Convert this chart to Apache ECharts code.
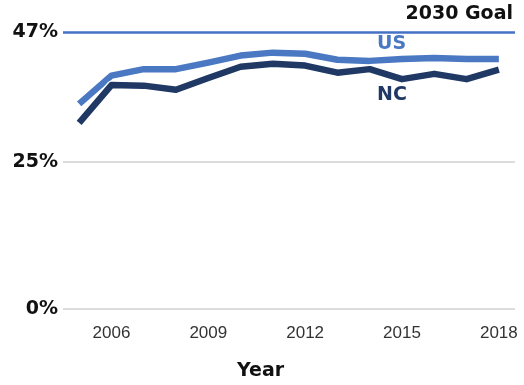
<!DOCTYPE html>
<html>
<head>
<meta charset="utf-8">
<script src="https://cdn.jsdelivr.net/npm/echarts@6/dist/echarts.min.js"></script>
<style>
  html, body { margin: 0; padding: 0; background: #fff; }
  #chart { width: 524px; height: 385px; }
</style>
</head>
<body>
<div id="chart"></div>
<script>
// Attainment rate (%) by year, North Carolina vs. United States
const years = ['2005','2006','2007','2008','2009','2010','2011','2012','2013','2014','2015','2016','2017','2018'];
const usValues = [34.8, 39.6, 40.7, 40.7, 41.8, 43.0, 43.5, 43.3, 42.3, 42.1, 42.4, 42.6, 42.4, 42.4];
const ncValues = [31.6, 38.0, 37.9, 37.2, 39.2, 41.1, 41.6, 41.3, 40.1, 40.7, 39.0, 39.9, 39.0, 40.6];
const yTicks = [0, 25, 47];
const goalValue = 47;
const shownYears = ['2006', '2009', '2012', '2015', '2018'];

const FONT = 'Liberation Sans, Arial, sans-serif';
const BOLD_FONT = 'DejaVu Sans, sans-serif';
const US_COLOR = '#4a78c2';
const NC_COLOR = '#1f3864';
const chart = echarts.init(document.getElementById('chart'));

chart.setOption({
  animation: false,
  grid: { left: 63, right: 9, top: 32, bottom: 76 },
  xAxis: {
    type: 'category',
    data: years,
    boundaryGap: true,
    axisLine: { show: false },
    axisTick: { show: false },
    axisLabel: {
      interval: (i, v) => shownYears.includes(v),
      color: '#333',
      fontFamily: FONT,
      fontSize: 17,
      margin: 16
    }
  },
  yAxis: {
    type: 'value',
    min: 0,
    max: goalValue,
    splitLine: { show: false },
    axisLine: { show: false },
    axisTick: { show: false },
    axisLabel: {
      customValues: yTicks,
      formatter: v => v + '%',
      color: '#111',
      fontFamily: BOLD_FONT,
      fontWeight: 'bold',
      fontSize: 19,
      margin: 5
    }
  },
  graphic: [
    { type: 'text', left: 377, top: 35, style: { text: 'US', fill: US_COLOR, font: 'bold 19px ' + BOLD_FONT } },
    { type: 'text', left: 377, top: 86, style: { text: 'NC', fill: NC_COLOR, font: 'bold 19px ' + BOLD_FONT } },
    { type: 'text', left: 237, top: 362, style: { text: 'Year', fill: '#111', font: 'bold 19px ' + BOLD_FONT } }
  ],
  series: [
    {
      name: 'Grid',
      type: 'line',
      data: [],
      silent: true,
      markLine: {
        symbol: 'none',
        silent: true,
        label: { show: false },
        lineStyle: { color: '#dcdcdc', width: 2, type: 'solid' },
        data: [{ yAxis: 0 }, { yAxis: 25 }]
      }
    },
    {
      name: 'Goal',
      type: 'line',
      data: [],
      silent: true,
      markLine: {
        symbol: 'none',
        silent: true,
        lineStyle: { color: '#4472c4', width: 2.5, type: 'solid' },
        label: {
          show: true,
          position: 'insideEndTop',
          formatter: '2030 Goal',
          color: '#111',
          fontFamily: BOLD_FONT,
          fontWeight: 'bold',
          fontSize: 19,
          distance: [2, 8]
        },
        data: [{ yAxis: goalValue }]
      }
    },
    {
      name: 'US',
      type: 'line',
      data: usValues,
      symbol: 'none',
      lineStyle: { color: US_COLOR, width: 6.5, join: 'round' },
      z: 3
    },
    {
      // thin white halo separating the NC line from the US line
      name: 'NC halo',
      type: 'line',
      data: ncValues,
      symbol: 'none',
      silent: true,
      lineStyle: { color: '#fff', width: 9, join: 'round' },
      z: 4
    },
    {
      name: 'NC',
      type: 'line',
      data: ncValues,
      symbol: 'none',
      lineStyle: { color: NC_COLOR, width: 6.5, join: 'round' },
      z: 5
    }
  ]
});
</script>
</body>
</html>
